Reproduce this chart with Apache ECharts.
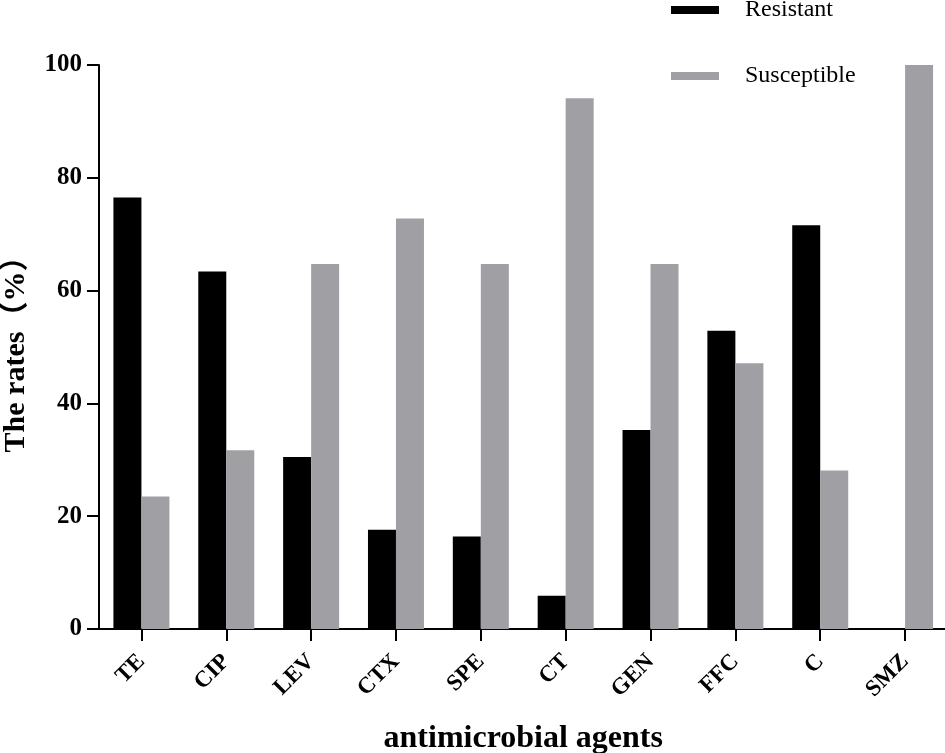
<!DOCTYPE html>
<html>
<head>
<meta charset="utf-8">
<script src="https://cdn.jsdelivr.net/npm/echarts@6/dist/echarts.min.js"></script>
<style>
  html, body { margin: 0; padding: 0; background: #fff; }
  #main { width: 945px; height: 753px; }
</style>
</head>
<body>
<div id="main"></div>
<script>
var agents = ['TE', 'CIP', 'LEV', 'CTX', 'SPE', 'CT', 'GEN', 'FFC', 'C', 'SMZ'];
var resistant = [76.5, 63.4, 30.5, 17.6, 16.4, 5.9, 35.3, 52.9, 71.6, 0];
var susceptible = [23.5, 31.7, 64.7, 72.8, 64.7, 94.1, 64.7, 47.1, 28.1, 100];
var yTicks = [0, 20, 40, 60, 80, 100];

var serif = '"Liberation Serif", "Times New Roman", serif';
var myChart = echarts.init(document.getElementById('main'));

var option = {
  animation: false,
  color: ['#000000', '#a0a0a4'],
  legend: {
    orient: 'vertical',
    left: 671,
    top: -2,
    padding: 0,
    icon: 'rect',
    itemWidth: 48,
    itemHeight: 8,
    itemGap: 42,
    textStyle: {
      fontFamily: serif,
      fontSize: 24,
      color: '#000',
      padding: [0, 0, 0, 21]
    },
    data: ['Resistant', 'Susceptible']
  },
  grid: {
    left: 99,
    right: -2.5,
    top: 65,
    bottom: 124,
    outerBoundsMode: 'none'
  },
  xAxis: {
    type: 'category',
    data: agents,
    name: 'antimicrobial agents',
    nameLocation: 'middle',
    nameGap: 94,
    nameTextStyle: {
      fontFamily: serif,
      fontSize: 32,
      fontWeight: 'bold',
      color: '#000'
    },
    axisLine: { lineStyle: { color: '#000', width: 2 } },
    axisTick: { show: true, alignWithLabel: true, length: 12, lineStyle: { color: '#000', width: 2 } },
    axisLabel: {
      rotate: 45,
      margin: 29,
      fontFamily: serif,
      fontSize: 23,
      fontWeight: 'bold',
      color: '#000'
    }
  },
  yAxis: {
    type: 'value',
    min: yTicks[0],
    max: yTicks[yTicks.length - 1],
    interval: 20,
    name: 'The rates（%）',
    nameLocation: 'middle',
    nameGap: 68,
    nameTextStyle: {
      fontFamily: '"Liberation Serif", "Noto Sans CJK SC", serif',
      fontSize: 30,
      fontWeight: 'bold',
      color: '#000'
    },
    splitLine: { show: false },
    axisLine: { show: true, lineStyle: { color: '#000', width: 2 } },
    axisTick: { show: true, length: 12, lineStyle: { color: '#000', width: 2 } },
    axisLabel: {
      margin: 17,
      fontFamily: serif,
      fontSize: 25,
      fontWeight: 'bold',
      color: '#000'
    }
  },
  series: [
    {
      name: 'Resistant',
      type: 'bar',
      barWidth: 28,
      barGap: '0%',
      data: resistant
    },
    {
      name: 'Susceptible',
      type: 'bar',
      barWidth: 28,
      barGap: '0%',
      data: susceptible
    }
  ]
};

myChart.setOption(option);
</script>
</body>
</html>
